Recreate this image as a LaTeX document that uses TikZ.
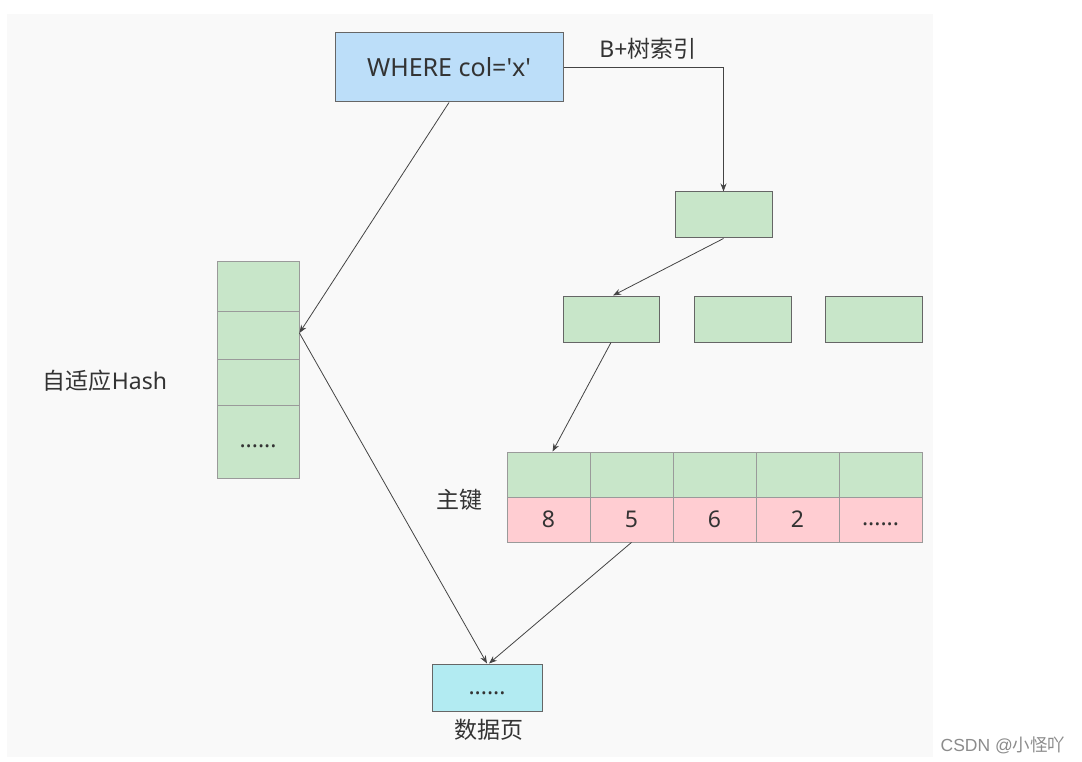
\documentclass[tikz,border=0pt]{standalone}
\usepackage{fontspec}
\setmainfont{Noto Sans CJK SC}
\newfontfamily\lat{Noto Sans}
\newfontfamily\wm{Liberation Sans}
\usetikzlibrary{arrows.meta}
\definecolor{bgray}{HTML}{F9F9F9}
\definecolor{boxblue}{HTML}{BCDEF9}
\definecolor{boxgreen}{HTML}{C8E6C9}
\definecolor{boxpink}{HTML}{FFCDD2}
\definecolor{boxcyan}{HTML}{B2EBF2}
\definecolor{edge}{HTML}{666666}
\definecolor{celledge}{HTML}{9A9A9A}
\definecolor{txt}{HTML}{333333}
\definecolor{conn}{HTML}{444444}
\tikzset{
  box/.style={draw=edge, line width=1pt, inner sep=0pt, text=txt, font=\fontsize{23}{27}\selectfont},
  cell/.style={draw=celledge, line width=0.8pt, inner sep=0pt, text=txt, font=\fontsize{23}{27}\selectfont},
  lbl/.style={text=txt, inner sep=0pt, font=\fontsize{23}{27}\selectfont},
  arr/.style={draw=conn, line width=0.8pt, -{Stealth[length=8pt,width=6pt]}},
}
\begin{document}
\begin{tikzpicture}[x=1pt,y=-1pt]
\useasboundingbox (0,0) rectangle (1082,762);
\fill[white] (0,0) rectangle (1082,762);
\fill[bgray] (7,14) rectangle (933,757);

% top query box
\node[box, fill=boxblue, minimum width=228pt, minimum height=69pt, font=\fontsize{25}{29}\selectfont] (where) at (449,67.5) {\lat WHERE col='x'};

% B+ tree
\node[box, fill=boxgreen, minimum width=97pt, minimum height=46pt] (top) at (723.5,215) {};
\node[box, fill=boxgreen, minimum width=96pt, minimum height=46pt] (mA) at (611,319) {};
\node[box, fill=boxgreen, minimum width=97pt, minimum height=46pt] (mB) at (742.5,319) {};
\node[box, fill=boxgreen, minimum width=97pt, minimum height=46pt] (mC) at (873.5,319) {};

% table
\foreach \i/\x/\v in {1/548.5/8, 2/631.5/5, 3/714.5/6, 4/797.5/2}{
  \node[cell, fill=boxgreen, minimum width=83pt, minimum height=45pt] (g\i) at (\x,474.5) {};
  \node[cell, fill=boxpink, minimum width=83pt, minimum height=45pt] (p\i) at (\x,519.5) {\lat \v};
}
\node[cell, fill=boxgreen, minimum width=83pt, minimum height=45pt] (g5) at (880.5,474.5) {};
\node[cell, fill=boxpink, minimum width=83pt, minimum height=45pt] (p5) at (880.5,519.5) {};
\node[lbl] (pdots) at (880.5,524) {\lat ......};

% hash column
\node[cell, fill=boxgreen, minimum width=82pt, minimum height=50pt] (h1) at (258,286) {};
\node[cell, fill=boxgreen, minimum width=82pt, minimum height=48pt] (h2) at (258,335) {};
\node[cell, fill=boxgreen, minimum width=82pt, minimum height=46pt] (h3) at (258,382) {};
\node[cell, fill=boxgreen, minimum width=82pt, minimum height=73pt] (h4) at (258,441.5) {};
\node[lbl] (hdots) at (258,446) {\lat ......};

% data page
\node[box, fill=boxcyan, minimum width=110pt, minimum height=47pt] (page) at (487,687.5) {};
\node[lbl] (pgdots) at (487,693) {\lat ......};

% labels
\node[lbl] (bidx) at (648,49) {{\lat B+}树索引};
\node[lbl] (hashlbl) at (105,381) {自适应{\lat Hash}};
\node[lbl] (pk) at (459,500) {主键};
\node[lbl] (pglbl) at (488.5,730) {数据页};
\node[inner sep=0pt, text=black!45, font=\fontsize{17.5}{20}\selectfont] (wm) at (1003,745) {{\wm CSDN @}小怪吖};

% connectors
\draw[arr] (where.east) -| (top.north);
\draw[arr] (top.south) -- ([xshift=2pt]mA.north);
\draw[arr] (mA.south) -- ([xshift=4pt]g1.north);
\draw[arr] (where.south) -- ([yshift=2pt]h2.east);
\draw[arr] ([yshift=2pt]h2.east) -- (page.north);
\draw[arr] (p2.south) -- ([xshift=2pt]page.north);
\end{tikzpicture}
\end{document}
